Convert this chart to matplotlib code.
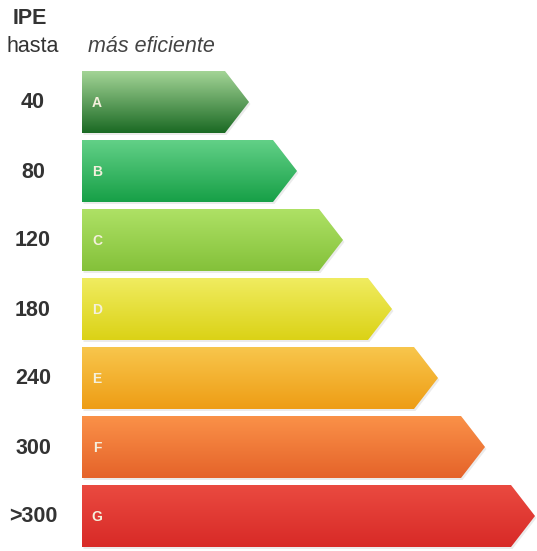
import numpy as np
import matplotlib
matplotlib.use("Agg")
import matplotlib.pyplot as plt
from matplotlib.patches import Polygon
from matplotlib.colors import to_rgb
from matplotlib import font_manager

# ---- data ----
categories = ["A", "B", "C", "D", "E", "F", "G"]
ipe_labels = ["40", "80", "120", "180", "240", "300", ">300"]
bar_lengths = [167, 215, 261, 310, 356, 403, 453]   # arrow tip distance from left edge
top_colors = ["#a3d496", "#62d087", "#aee165", "#f0ec60", "#f8c64c", "#fa9148", "#ea4a40"]
bottom_colors = ["#1b6a24", "#17a047", "#84c13a", "#dbd216", "#ee9d15", "#e5632a", "#d82a27"]

names = {f.name for f in font_manager.fontManager.ttflist}
narrow = "Liberation Sans Narrow" if "Liberation Sans Narrow" in names else "Liberation Sans"
fam = [narrow, "DejaVu Sans"]

W, H = 537, 551
fig = plt.figure(figsize=(W / 100, H / 100), dpi=100)
ax = fig.add_axes([0, 0, 1, 1])
ax.set_xlim(0, W)
ax.set_ylim(H, 0)
ax.axis("off")

left = 82
bar_h = 62
pitch = 69
top0 = 71
tip = 24

for i, (cat, lab, L) in enumerate(zip(categories, ipe_labels, bar_lengths)):
    y0 = top0 + i * pitch
    y1 = y0 + bar_h
    ym = (y0 + y1) / 2
    xe = left + L
    verts = [(left, y0), (xe - tip, y0), (xe, ym), (xe - tip, y1), (left, y1)]
    # soft shadow
    sh = Polygon([(x + 1.5, y + 2) for x, y in verts], closed=True,
                 facecolor="#000000", alpha=0.08, edgecolor="none", zorder=1)
    ax.add_patch(sh)
    poly = Polygon(verts, closed=True, facecolor="none", edgecolor="none", zorder=2)
    ax.add_patch(poly)
    c0 = np.array(to_rgb(top_colors[i]))
    c1 = np.array(to_rgb(bottom_colors[i]))
    t = np.linspace(0, 1, 100)[:, None]
    grad = (c0 * (1 - t) + c1 * t)[:, None, :]
    im = ax.imshow(grad, extent=(left, xe, y1, y0), aspect="auto",
                   interpolation="bilinear", zorder=2)
    im.set_clip_path(poly)
    ax.text(left + 15, ym + 1, cat, fontsize=10, fontweight="bold", color="#f4f0dc",
            family=fam, ha="center", va="center", zorder=3)
    ax.text(33, ym + 1, lab, fontsize=15.5, fontweight="bold", color="#333333",
            family=fam, ha="center", va="center", zorder=3)

ax.text(30, 18, "IPE", fontsize=15.5, fontweight="bold", color="#333333",
        family=fam, ha="center", va="center")
ax.text(33, 47, "hasta", fontsize=15.5, color="#333333",
        family=fam, ha="center", va="center")
ax.text(88, 47, "más eficiente", fontsize=15.5, style="italic", color="#444444",
        family=fam, ha="left", va="center")

fig.savefig("out.png", dpi=100)
